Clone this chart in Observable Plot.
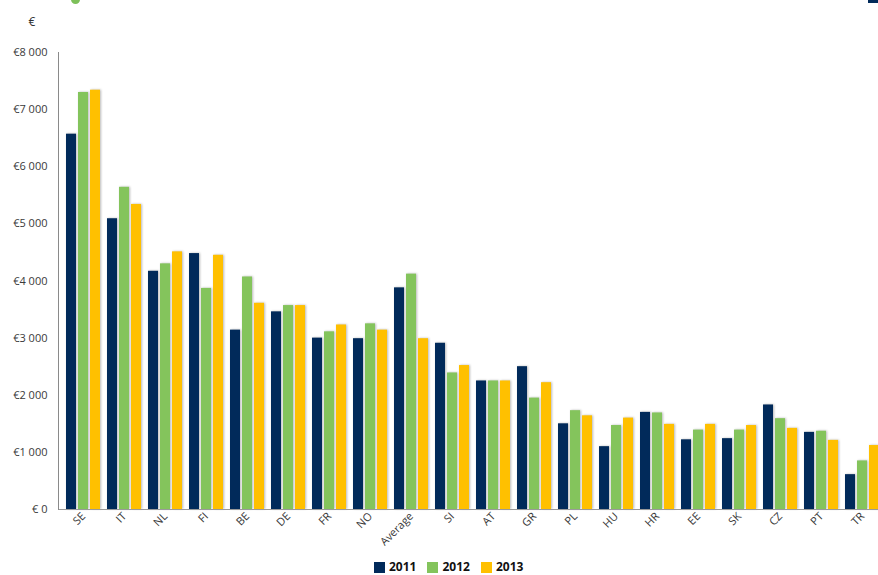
<!DOCTYPE html>
<html>
<head>
<meta charset="utf-8">
<script src="https://cdn.jsdelivr.net/npm/d3@7"></script>
<script src="https://cdn.jsdelivr.net/npm/@observablehq/plot@0.6"></script>
<style>
  html, body { margin: 0; padding: 0; background: #fff; overflow: hidden; width: 878px; height: 575px; }
  #wrap { position: relative; width: 878px; height: 575px; overflow: hidden; }
  #chart { width: 890px; }
  #chart svg { max-width: none !important; }
  #chart svg g[aria-label="bar"] rect { filter: drop-shadow(1.5px 0.5px 0.8px rgba(0,0,0,0.28)); }
  .legend { position: absolute; left: 374px; top: 561px; display: flex; align-items: center; font-family: "Open Sans", sans-serif; font-size: 12px; line-height: 12px; font-weight: bold; color: #111; }
  .legend span.sw { display: inline-block; width: 11px; height: 11px; margin-right: 4px; }
  .legend .item { display: flex; align-items: center; margin-right: 11px; }
  .dot { position: absolute; left: 71px; top: -5px; width: 9px; height: 9px; border-radius: 50%; background: #7dc05a; }
  .corner { position: absolute; left: 868px; top: 0; width: 10px; height: 3px; background: #012a5a; }
</style>
</head>
<body>
<div id="wrap">
  <div class="dot"></div>
  <div class="corner"></div>
  <div id="chart"></div>
  <div class="legend" id="legend"></div>
</div>
<script>
const countries = ["SE","IT","NL","FI","BE","DE","FR","NO","Average","SI","AT","GR","PL","HU","HR","EE","SK","CZ","PT","TR"];
const years = ["2011","2012","2013"];
const v2011 = [6570,5090,4170,4480,3140,3460,3000,2990,3880,2910,2250,2500,1500,1100,1700,1220,1240,1830,1350,610];
const v2012 = [7300,5640,4300,3870,4070,3570,3110,3250,4120,2390,2250,1950,1730,1470,1690,1390,1390,1590,1370,850];
const v2013 = [7340,5340,4510,4450,3610,3570,3230,3140,2990,2520,2250,2220,1640,1600,1490,1490,1470,1420,1210,1120];
const colors = ["#012a5a", "#84c45c", "#ffc000"];
const yTicks = [0,1000,2000,3000,4000,5000,6000,7000,8000];

const series = [v2011, v2012, v2013];
const barMarks = series.map((vals, i) =>
  Plot.barY(countries.map((c, j) => ({country: c, value: vals[j]})), {
    x: "country",
    y: "value",
    fill: colors[i],
    insetLeft: i * 12,
    insetRight: (2 - i) * 12
  })
);

const fmt = d => d === 0 ? "€ 0" : "€" + d3.format(",")(d).replace(/,/g, " ");

const chart = Plot.plot({
  width: 890,
  height: 560,
  marginLeft: 58,
  marginRight: 4,
  marginTop: 52,
  marginBottom: 51,
  style: {fontFamily: "'Open Sans', sans-serif", fontSize: "11px", color: "#3a3a3a", background: "transparent"},
  x: {domain: countries, paddingInner: 0.18, paddingOuter: 0.09, label: null},
  y: {domain: [0, 8000], label: null},
  marks: [
    ...barMarks,
    Plot.axisY({ticks: yTicks, tickFormat: fmt, tickSize: 0, tickPadding: 11, label: null}),
    Plot.axisX({tickRotate: -45, tickSize: 0, tickPadding: 5, label: null}),
    Plot.ruleY([0], {stroke: "#9a9a9a", strokeWidth: 1.2}),
    Plot.frame({anchor: "left", stroke: "#8a8a8a"}),
    Plot.text(["€"], {frameAnchor: "top-left", dx: -30, dy: -35, fontSize: 12, fill: "#333"})
  ]
});
document.getElementById("chart").appendChild(chart);

const legend = document.getElementById("legend");
years.forEach((y, i) => {
  const it = document.createElement("div");
  it.className = "item";
  it.innerHTML = `<span class="sw" style="background:${colors[i]}"></span>${y}`;
  legend.appendChild(it);
});
</script>
</body>
</html>
